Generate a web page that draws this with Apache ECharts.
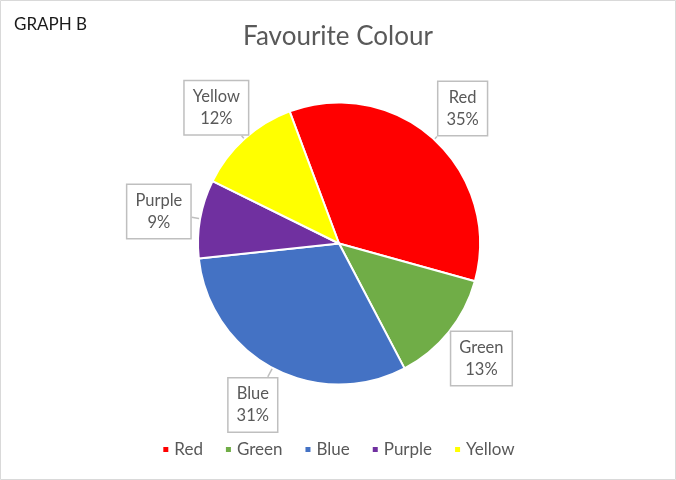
<!DOCTYPE html>
<html><head><meta charset="utf-8">
<script src="https://cdn.jsdelivr.net/npm/echarts@6/dist/echarts.min.js"></script>
<style>html,body{margin:0;padding:0;background:#fff}#c{width:676px;height:480px}</style>
</head><body><div id="c"></div>
<script>
const categories = ['Red', 'Green', 'Blue', 'Purple', 'Yellow'];
const values = [35, 13, 31, 9, 12];
const colors = ['#FF0000', '#70AD47', '#4472C4', '#7030A0', '#FFFF00'];

const FONT = 'Lato, "Open Sans", sans-serif';
const CX = 339, CY = 243.5, R = 141, START = 110.5, LABEL_R = 183;
const total = values.reduce((a, b) => a + b, 0);
const cum = [];
values.reduce((acc, v, i) => { cum[i] = acc; return acc + v; }, 0);

const chart = echarts.init(document.getElementById('c'), null, {renderer: 'canvas'});
chart.setOption({
  animation: false,
  backgroundColor: '#fff',
  title: {
    text: 'Favourite Colour', left: 'center', top: 19,
    textStyle: {fontFamily: FONT, fontSize: 26, fontWeight: 'normal', color: '#595959'}
  },
  graphic: [
    {type: 'rect', shape: {x: 0.5, y: 0.5, width: 675, height: 479}, style: {fill: 'none', stroke: '#d9d9d9', lineWidth: 1}, silent: true},
    {type: 'text', left: 14, top: 16, style: {text: 'GRAPH B', font: '17px ' + FONT, fill: '#1a1a1a'}}
  ],
  legend: {
    data: categories, left: 'center', top: 436, icon: 'rect', itemWidth: 7, itemHeight: 7, itemGap: 21,
    textStyle: {fontFamily: FONT, fontSize: 17, color: '#595959'}
  },
  series: [{
    type: 'pie', center: [CX, CY], radius: R, startAngle: START, clockwise: true,
    data: categories.map((n, i) => ({name: n, value: values[i], itemStyle: {color: colors[i]}})),
    itemStyle: {borderColor: '#fff', borderWidth: 2},
    label: {
      show: true, position: 'outside', formatter: '{b}\n{d}%',
      fontFamily: FONT, fontSize: 16.5, lineHeight: 22, color: '#595959', align: 'center',
      backgroundColor: '#fff', borderColor: '#bfbfbf', borderWidth: 1.5, padding: [5, 8, 4, 8]
    },
    labelLine: {show: true, lineStyle: {color: '#bfbfbf', width: 1.5}},
    labelLayout: function (p) {
      const i = p.dataIndex;
      const a = (START - (cum[i] + values[i] / 2) / total * 360) * Math.PI / 180;
      const lx = CX + LABEL_R * Math.cos(a), ly = CY - LABEL_R * Math.sin(a);
      const ex = CX + R * Math.cos(a), ey = CY - R * Math.sin(a);
      const w = p.labelRect.width / 2, h = p.labelRect.height / 2;
      const dx = ex - lx, dy = ey - ly;
      const t = Math.min(w / Math.abs(dx || 1e-6), h / Math.abs(dy || 1e-6));
      const bx = lx + dx * t, by = ly + dy * t;
      return {x: lx, y: ly, align: 'center', verticalAlign: 'middle', labelLinePoints: [[bx, by], [bx, by], [ex, ey]]};
    }
  }]
});
</script></body></html>
